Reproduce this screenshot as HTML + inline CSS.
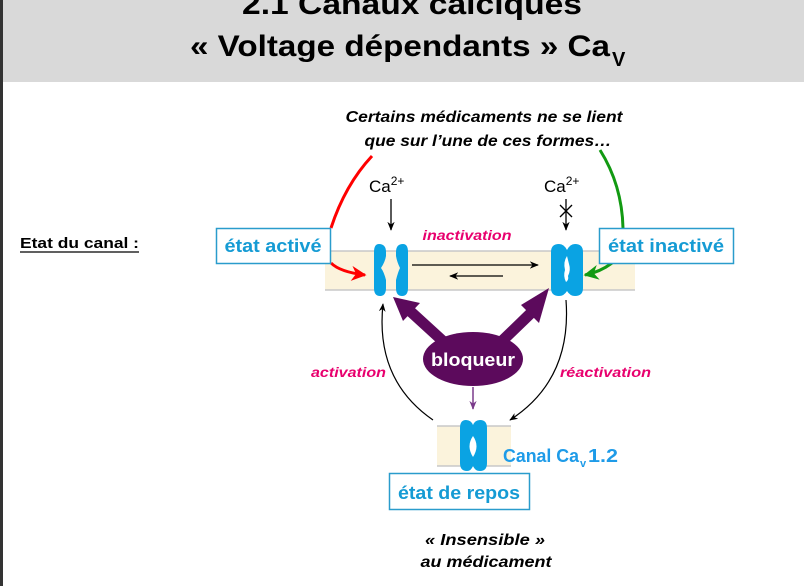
<!DOCTYPE html>
<html><head><meta charset="utf-8"><style>
html,body{margin:0;padding:0;background:#fff;}
svg{display:block;}
text{font-family:"Liberation Sans",sans-serif;}
</style></head><body>
<svg width="804" height="586" viewBox="0 0 804 586" xmlns="http://www.w3.org/2000/svg">
<defs>
<marker id="ab" viewBox="0 0 10 10" refX="9" refY="5" markerWidth="7" markerHeight="7" orient="auto"><path d="M0,1 L10,5 L0,9 L3,5z" fill="#000"/></marker>
<marker id="ar" viewBox="0 0 10 10" refX="9" refY="5" markerWidth="5" markerHeight="5" orient="auto"><path d="M0,0 L10,5 L0,10 L3,5z" fill="#f00"/></marker>
<marker id="ag" viewBox="0 0 10 10" refX="9" refY="5" markerWidth="5" markerHeight="5" orient="auto"><path d="M0,0 L10,5 L0,10 L3,5z" fill="#129a12"/></marker>
<marker id="ap" viewBox="0 0 10 10" refX="9" refY="5" markerWidth="6" markerHeight="6" orient="auto"><path d="M0,1 L10,5 L0,9 L3,5z" fill="#7a3a8a"/></marker>
</defs>
<rect x="0" y="0" width="804" height="586" fill="#fff"/>
<rect x="0" y="0" width="804" height="82" fill="#d9d9d9"/>
<rect x="0" y="0" width="3" height="586" fill="#333"/>
<text x="412" y="14" text-anchor="middle" font-size="30" font-weight="bold" textLength="340" lengthAdjust="spacingAndGlyphs">2.1 Canaux calciques</text>
<text x="400" y="56" text-anchor="middle" font-size="30" font-weight="bold" textLength="420" lengthAdjust="spacingAndGlyphs">« Voltage dépendants » Ca</text>
<text x="612" y="66" font-size="20" font-weight="bold">V</text>

<text x="484" y="122" text-anchor="middle" font-size="16" font-weight="bold" font-style="italic" textLength="277" lengthAdjust="spacingAndGlyphs">Certains médicaments ne se lient</text>
<text x="488" y="146" text-anchor="middle" font-size="16" font-weight="bold" font-style="italic" textLength="247" lengthAdjust="spacingAndGlyphs">que sur l’une de ces formes…</text>

<text x="20" y="248" font-size="15" font-weight="bold" textLength="119" lengthAdjust="spacingAndGlyphs">Etat du canal :</text>
<line x1="20" y1="252" x2="139" y2="252" stroke="#000" stroke-width="1.2"/>

<rect x="325" y="251" width="310" height="39" fill="#fbf3dc"/>
<line x1="325" y1="251" x2="635" y2="251" stroke="#c8c8c8" stroke-width="1.5"/>
<line x1="325" y1="290" x2="635" y2="290" stroke="#c8c8c8" stroke-width="1.5"/>
<rect x="437" y="426" width="74" height="40" fill="#fbf3dc"/>
<line x1="437" y1="426" x2="511" y2="426" stroke="#c8c8c8" stroke-width="1.5"/>
<line x1="437" y1="466" x2="511" y2="466" stroke="#c8c8c8" stroke-width="1.5"/>

<path d="M372,156 Q345,185 331,228" fill="none" stroke="#f00" stroke-width="3"/>
<path d="M331,263 Q340,272 365,275" fill="none" stroke="#f00" stroke-width="3" marker-end="url(#ar)"/>
<path d="M600,150 Q622,185 623,228" fill="none" stroke="#129a12" stroke-width="3"/>
<path d="M612,263 Q600,272 585,275" fill="none" stroke="#129a12" stroke-width="3" marker-end="url(#ag)"/>

<rect x="216.5" y="228.5" width="114" height="35" fill="#fff" stroke="#2a9ccc" stroke-width="1.5"/>
<text x="273" y="252" text-anchor="middle" font-size="18" font-weight="bold" fill="#159bd4" textLength="97" lengthAdjust="spacingAndGlyphs">état activé</text>
<rect x="599.5" y="228.5" width="134" height="35" fill="#fff" stroke="#2a9ccc" stroke-width="1.5"/>
<text x="666" y="252" text-anchor="middle" font-size="18" font-weight="bold" fill="#159bd4" textLength="116" lengthAdjust="spacingAndGlyphs">état inactivé</text>
<rect x="389.5" y="473.5" width="140" height="36" fill="#fff" stroke="#2a9ccc" stroke-width="1.5"/>
<text x="459" y="499" text-anchor="middle" font-size="18" font-weight="bold" fill="#159bd4" textLength="122" lengthAdjust="spacingAndGlyphs">état de repos</text>

<text x="369" y="192" font-size="17">Ca<tspan font-size="12" dy="-7">2+</tspan></text>
<text x="544" y="192" font-size="17">Ca<tspan font-size="12" dy="-7">2+</tspan></text>
<line x1="391" y1="199" x2="391" y2="230" stroke="#000" stroke-width="1.3" marker-end="url(#ab)"/>
<line x1="566" y1="199" x2="566" y2="230" stroke="#000" stroke-width="1.3" marker-end="url(#ab)"/>
<line x1="560" y1="205" x2="572" y2="217" stroke="#000" stroke-width="1.3"/>
<line x1="572" y1="205" x2="560" y2="217" stroke="#000" stroke-width="1.3"/>

<text x="467" y="240" text-anchor="middle" font-size="14" font-weight="bold" font-style="italic" fill="#e8006e" textLength="89" lengthAdjust="spacingAndGlyphs">inactivation</text>
<line x1="412" y1="265" x2="538" y2="265" stroke="#000" stroke-width="1.3" marker-end="url(#ab)"/>
<line x1="503" y1="276" x2="450" y2="276" stroke="#000" stroke-width="1.3" marker-end="url(#ab)"/>

<path d="M379,244 Q374,244 374,252 L374,288 Q374,296 380,296 Q386,296 386,288 L386,280 Q384,272 381,268 Q385,262 386,256 L386,252 Q386,244 379,244z" fill="#0aa3e3"/>
<path d="M403,244 Q408,244 408,252 L408,288 Q408,296 402,296 Q396,296 396,288 L396,280 Q398,272 400,268 Q397,262 396,256 L396,252 Q396,244 403,244z" fill="#0aa3e3"/>
<path d="M559,244 Q551,244 551,252 L551,288 Q551,296 559,296 Q564,296 567,291 Q570,296 575,296 Q583,296 583,288 L583,252 Q583,244 575,244 Q570,244 567,250 Q564,244 559,244z" fill="#0aa3e3"/>
<path d="M567,256 Q563,262 565,270 Q563,276 566,282 Q569,280 568,276 Q571,270 569,264z" fill="#fff"/>
<path d="M466,420 Q460,420 460,428 L460,463 Q460,471 467,471 Q471,471 473,466 Q475,471 480,471 Q487,471 487,463 L487,428 Q487,420 480,420 Q475,420 473,425 Q471,420 466,420z" fill="#0aa3e3"/>
<path d="M473,436 Q466,446 473,457 Q480,446 473,436z" fill="#fff"/>

<path d="M433,420 Q375,380 383,304" fill="none" stroke="#000" stroke-width="1.2" marker-end="url(#ab)"/>
<path d="M566,300 Q572,380 510,420" fill="none" stroke="#000" stroke-width="1.2" marker-end="url(#ab)"/>
<text x="311" y="377" font-size="14" font-weight="bold" font-style="italic" fill="#e8006e" textLength="75" lengthAdjust="spacingAndGlyphs">activation</text>
<text x="560" y="377" font-size="14" font-weight="bold" font-style="italic" fill="#e8006e" textLength="91" lengthAdjust="spacingAndGlyphs">réactivation</text>

<line x1="445" y1="343" x2="410" y2="311" stroke="#5c0a5c" stroke-width="11"/>
<polygon points="393,297 420,303 403,321" fill="#5c0a5c"/>
<line x1="500" y1="343" x2="531" y2="313" stroke="#5c0a5c" stroke-width="11"/>
<polygon points="549,288 539,323 521,305" fill="#5c0a5c"/>
<ellipse cx="473" cy="359" rx="50" ry="27" fill="#5c0a5c"/>
<text x="473" y="366" text-anchor="middle" font-size="18" font-weight="bold" fill="#fff" textLength="84" lengthAdjust="spacingAndGlyphs">bloqueur</text>
<line x1="473" y1="387" x2="473" y2="409" stroke="#7a3a8a" stroke-width="1.5" marker-end="url(#ap)"/>

<text x="503" y="462" font-size="18" font-weight="bold" fill="#1e9be8" textLength="76" lengthAdjust="spacingAndGlyphs">Canal Ca</text>
<text x="580" y="467" font-size="11" font-weight="bold" fill="#1e9be8">v</text>
<text x="588" y="462" font-size="18" font-weight="bold" fill="#1e9be8" textLength="30" lengthAdjust="spacingAndGlyphs">1.2</text>

<text x="485" y="545" text-anchor="middle" font-size="16" font-weight="bold" font-style="italic" textLength="120" lengthAdjust="spacingAndGlyphs">« Insensible »</text>
<text x="486" y="567" text-anchor="middle" font-size="16" font-weight="bold" font-style="italic" textLength="131" lengthAdjust="spacingAndGlyphs">au médicament</text>
</svg>
</body></html>
